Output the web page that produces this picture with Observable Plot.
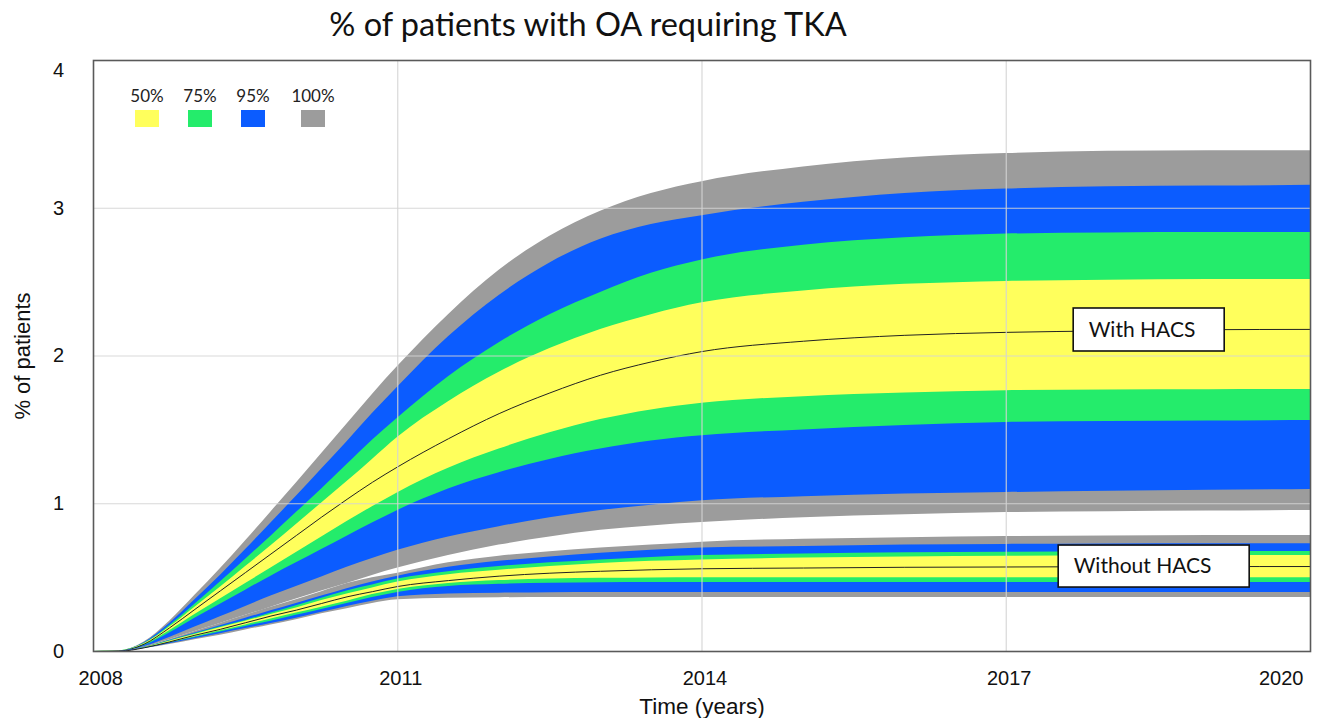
<!DOCTYPE html>
<html><head><meta charset="utf-8">
<script src="https://cdn.jsdelivr.net/npm/d3@7"></script>
<script src="https://cdn.jsdelivr.net/npm/@observablehq/plot@0.6"></script>
<style>
body{margin:0;background:#fff;}
#wrap{position:relative;width:1317px;height:718px;overflow:hidden;}
#title{position:absolute;left:0;top:4px;width:1176px;text-align:center;font-family:Lato,"Open Sans",sans-serif;font-size:32.5px;color:#111;line-height:40px;}
#chart{position:absolute;left:0;top:50px;}
#legend{position:absolute;left:0;top:0;}
.li{position:absolute;top:86px;width:24px;display:flex;flex-direction:column;align-items:center;}
.li span{font-family:Lato,sans-serif;font-size:17px;color:#222;white-space:nowrap;line-height:20px;}
.li i{display:block;width:24px;height:17px;margin-top:4px;}
</style></head>
<body>
<div id="wrap">
  <div id="title"></div>
  <div id="chart"></div>
  <div id="legend"></div>
</div>
<script>
// ---- data ----
const titleText = "% of patients with OA requiring TKA";
const years = [2008, 2008.25, 2008.5, 2008.75, 2009, 2009.25, 2009.5, 2009.75, 2010, 2010.25, 2010.5, 2010.75, 2011, 2011.5, 2012, 2012.5, 2013, 2013.5, 2014, 2015, 2016, 2017, 2018, 2019, 2020];

// With HACS (bounds of the 100/95/75/50% bands and median)
const withHi100 = [0, 0.004, 0.065, 0.205, 0.38, 0.56, 0.75, 0.945, 1.14, 1.34, 1.54, 1.74, 1.93, 2.28, 2.58, 2.81, 2.98, 3.10, 3.18, 3.28, 3.34, 3.37, 3.385, 3.39, 3.39];
const withHi95  = [0, 0.004, 0.06, 0.19, 0.35, 0.515, 0.69, 0.87, 1.05, 1.235, 1.42, 1.61, 1.79, 2.13, 2.41, 2.63, 2.79, 2.89, 2.95, 3.04, 3.10, 3.13, 3.145, 3.15, 3.155];
const withHi75  = [0, 0.0035, 0.055, 0.175, 0.32, 0.47, 0.625, 0.78, 0.94, 1.10, 1.265, 1.43, 1.58, 1.86, 2.09, 2.28, 2.43, 2.56, 2.65, 2.75, 2.80, 2.825, 2.833, 2.836, 2.836];
const withHi50  = [0, 0.003, 0.052, 0.165, 0.30, 0.435, 0.575, 0.715, 0.86, 1.005, 1.15, 1.30, 1.45, 1.69, 1.89, 2.05, 2.18, 2.28, 2.36, 2.44, 2.485, 2.505, 2.513, 2.517, 2.518];
const withMed   = [0, 0.003, 0.05, 0.16, 0.285, 0.41, 0.535, 0.66, 0.785, 0.91, 1.03, 1.145, 1.25, 1.44, 1.61, 1.75, 1.87, 1.96, 2.03, 2.10, 2.14, 2.16, 2.17, 2.178, 2.18];
const withLo50  = [0, 0.0025, 0.045, 0.14, 0.25, 0.355, 0.46, 0.565, 0.67, 0.775, 0.88, 0.98, 1.075, 1.24, 1.37, 1.48, 1.57, 1.635, 1.68, 1.725, 1.75, 1.765, 1.77, 1.772, 1.773];
const withLo75  = [0, 0.002, 0.04, 0.125, 0.225, 0.32, 0.415, 0.51, 0.60, 0.69, 0.78, 0.87, 0.955, 1.10, 1.21, 1.30, 1.37, 1.425, 1.46, 1.50, 1.53, 1.55, 1.557, 1.56, 1.563];
const withLo95  = [0, 0.002, 0.033, 0.095, 0.165, 0.235, 0.305, 0.375, 0.44, 0.505, 0.57, 0.63, 0.685, 0.775, 0.845, 0.905, 0.955, 0.99, 1.02, 1.048, 1.066, 1.076, 1.085, 1.091, 1.096];
const withLo100 = [0, 0.0015, 0.028, 0.08, 0.135, 0.19, 0.245, 0.30, 0.355, 0.41, 0.46, 0.515, 0.565, 0.65, 0.72, 0.775, 0.82, 0.85, 0.873, 0.905, 0.925, 0.94, 0.946, 0.951, 0.954];

// Without HACS
const woHi100 = [0, 0.0015, 0.03, 0.08, 0.135, 0.19, 0.245, 0.30, 0.35, 0.405, 0.46, 0.50, 0.53, 0.60, 0.645, 0.675, 0.70, 0.72, 0.74, 0.76, 0.77, 0.778, 0.782, 0.785, 0.785];
const woHi95  = [0, 0.0015, 0.028, 0.075, 0.125, 0.175, 0.225, 0.275, 0.325, 0.375, 0.425, 0.47, 0.51, 0.57, 0.61, 0.64, 0.665, 0.685, 0.70, 0.71, 0.72, 0.725, 0.728, 0.73, 0.73];
const woHi75  = [0, 0.0014, 0.027, 0.072, 0.12, 0.165, 0.21, 0.26, 0.31, 0.36, 0.41, 0.45, 0.49, 0.54, 0.575, 0.60, 0.62, 0.637, 0.65, 0.66, 0.668, 0.672, 0.675, 0.677, 0.677];
const woHi50  = [0, 0.0013, 0.026, 0.07, 0.115, 0.16, 0.205, 0.25, 0.295, 0.345, 0.39, 0.43, 0.47, 0.52, 0.55, 0.575, 0.595, 0.61, 0.62, 0.632, 0.64, 0.645, 0.648, 0.65, 0.65];
const woMed   = [0, 0.0012, 0.025, 0.065, 0.11, 0.15, 0.195, 0.24, 0.28, 0.325, 0.37, 0.405, 0.44, 0.48, 0.51, 0.53, 0.543, 0.553, 0.56, 0.565, 0.57, 0.572, 0.574, 0.575, 0.575];
const woLo50  = [0, 0.0011, 0.024, 0.061, 0.10, 0.14, 0.18, 0.22, 0.26, 0.30, 0.34, 0.385, 0.42, 0.46, 0.48, 0.49, 0.495, 0.498, 0.50, 0.50, 0.50, 0.50, 0.50, 0.50, 0.50];
const woLo75  = [0, 0.001, 0.023, 0.058, 0.095, 0.132, 0.17, 0.205, 0.245, 0.285, 0.325, 0.365, 0.40, 0.44, 0.455, 0.462, 0.466, 0.467, 0.467, 0.467, 0.467, 0.467, 0.467, 0.467, 0.467];
const woLo95  = [0, 0.001, 0.021, 0.053, 0.087, 0.12, 0.155, 0.19, 0.225, 0.265, 0.305, 0.34, 0.37, 0.39, 0.395, 0.398, 0.40, 0.40, 0.40, 0.40, 0.40, 0.40, 0.40, 0.40, 0.40];
const woLo100 = [0, 0.001, 0.02, 0.048, 0.08, 0.11, 0.145, 0.18, 0.215, 0.255, 0.29, 0.325, 0.35, 0.36, 0.364, 0.366, 0.366, 0.366, 0.366, 0.366, 0.366, 0.366, 0.366, 0.366, 0.366];

const bandLabels = ["50%", "75%", "95%", "100%"];
const bandColors = ["#ffff5c", "#24ec6b", "#0b5cff", "#9c9c9c"];
const xTickLabels = [2008, 2011, 2014, 2017, 2020];
const yTickLabels = [0, 1, 2, 3, 4];
const seriesLabels = ["With HACS", "Without HACS"];
const seriesLabelYears = [2017.665, 2017.517];
const seriesLabelValues = [2.176, 0.575];
const yTitle = "% of patients";
const xTitle = "Time (years)";

// ---- build tables ----
const rows = years.map((t, i) => ({
  t,
  wH100: withHi100[i], wH95: withHi95[i], wH75: withHi75[i], wH50: withHi50[i], wM: withMed[i],
  wL50: withLo50[i], wL75: withLo75[i], wL95: withLo95[i], wL100: withLo100[i],
  oH100: woHi100[i], oH95: woHi95[i], oH75: woHi75[i], oH50: woHi50[i], oM: woMed[i],
  oL50: woLo50[i], oL75: woLo75[i], oL95: woLo95[i], oL100: woLo100[i]
}));
const curve = "monotone-x";
const band = (lo, hi, k) => Plot.areaY(rows, {x: "t", y1: lo, y2: hi, fill: bandColors[k], curve});
const labels = seriesLabels.map((s, i) => ({s, x: seriesLabelYears[i], y: seriesLabelValues[i]}));

document.getElementById("title").textContent = titleText;

const axisFont = "'Liberation Sans', Arial, sans-serif";
const chart = Plot.plot({
  width: 1317,
  height: 668,
  marginTop: 10,
  marginLeft: 93,
  marginRight: 7,
  marginBottom: 67,
  style: {fontFamily: axisFont, fontSize: "20px", color: "#111", background: "white"},
  x: {type: "linear", domain: [2008, 2020], axis: null},
  y: {domain: [0, 4], axis: null},
  marks: [
    // With HACS
    band("wL100", "wH100", 3),
    band("wL95", "wH95", 2),
    band("wL75", "wH75", 1),
    band("wL50", "wH50", 0),
    Plot.lineY(rows, {x: "t", y: "wM", stroke: "#222", strokeWidth: 1, curve}),
    // Without HACS
    band("oL100", "oH100", 3),
    band("oL95", "oH95", 2),
    band("oL75", "oH75", 1),
    band("oL50", "oH50", 0),
    Plot.lineY(rows, {x: "t", y: "oM", stroke: "#222", strokeWidth: 1, curve}),
    // grid
    Plot.gridX(xTickLabels.slice(1, -1), {stroke: "#d4d4d4", strokeOpacity: 0.9, strokeWidth: 1.2}),
    Plot.gridY(yTickLabels.slice(1, -1), {stroke: "#d4d4d4", strokeOpacity: 0.9, strokeWidth: 1.2}),
    Plot.frame({stroke: "#5a5a5a", strokeWidth: 1.6}),
    // series label boxes
    Plot.rect([labels[0]], {x1: "x", x2: "x", y1: "y", y2: "y", insetLeft: 0, insetRight: -151, insetTop: -21.5, insetBottom: -21.5, fill: "white", stroke: "#111", strokeWidth: 1.6}),
    Plot.rect([labels[1]], {x1: "x", x2: "x", y1: "y", y2: "y", insetLeft: 0, insetRight: -191, insetTop: -21, insetBottom: -21, fill: "white", stroke: "#111", strokeWidth: 1.6}),
    Plot.text(labels, {x: "x", y: "y", text: "s", textAnchor: "start", dx: 15, fontFamily: "Lato, sans-serif", fontSize: 21, fill: "#111"}),
    // x tick labels
    Plot.text(xTickLabels.slice(1, -1), {x: d => d, frameAnchor: "bottom", dy: 27, dx: 3, textAnchor: "middle", text: d => String(d), lineAnchor: "middle"}),
    Plot.text([xTickLabels[0]], {x: d => d, frameAnchor: "bottom", dy: 27, dx: -15, textAnchor: "start", text: d => String(d), lineAnchor: "middle"}),
    Plot.text([xTickLabels[xTickLabels.length - 1]], {x: d => d, frameAnchor: "bottom", dy: 27, dx: -7, textAnchor: "end", text: d => String(d), lineAnchor: "middle"}),
    // y tick labels
    Plot.text(yTickLabels.slice(0, -1), {y: d => d, frameAnchor: "left", dx: -35, textAnchor: "middle", text: d => String(d), lineAnchor: "middle"}),
    Plot.text([yTickLabels[yTickLabels.length - 1]], {y: d => d, frameAnchor: "left", dx: -35, dy: 10, textAnchor: "middle", text: d => String(d), lineAnchor: "middle"}),
    // axis titles
    Plot.text([yTitle], {frameAnchor: "left", dx: -71, rotate: -90, textAnchor: "middle", text: d => d, lineAnchor: "middle", fontSize: 22}),
    Plot.text([xTitle], {frameAnchor: "bottom", dy: 55, textAnchor: "middle", text: d => d, lineAnchor: "middle", fontSize: 22.5})
  ]
});
document.getElementById("chart").appendChild(chart);

// legend (inside plot area, top-left)
const legend = document.getElementById("legend");
const legendLefts = [135, 188, 241, 301];
bandLabels.forEach((lab, i) => {
  const d = document.createElement("div");
  d.className = "li";
  d.style.left = legendLefts[i] + "px";
  const s = document.createElement("span"); s.textContent = lab;
  const sw = document.createElement("i"); sw.style.background = bandColors[i];
  d.appendChild(s); d.appendChild(sw);
  legend.appendChild(d);
});
</script>
</body></html>
